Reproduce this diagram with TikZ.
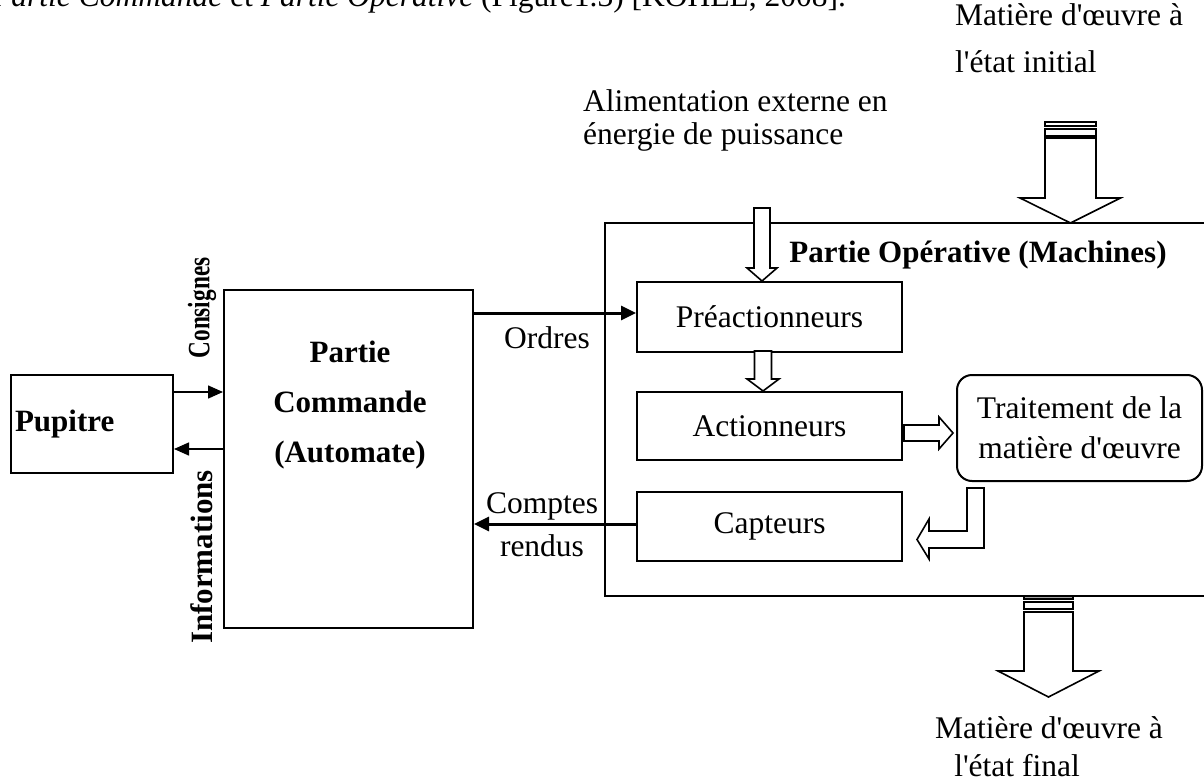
\documentclass[tikz,border=0pt]{standalone}
\usepackage{fontspec}
\setmainfont{Liberation Serif}[Ligatures=TeXOff]
\usetikzlibrary{arrows.meta,calc}
\begin{document}
\begin{tikzpicture}[x=1pt,y=-1pt,
  every node/.style={font=\fontsize{31.5}{47}\selectfont, inner sep=0pt},
  box/.style={draw, line width=2pt, inner sep=0pt},
  bold/.style={font=\fontsize{31}{50}\selectfont\bfseries},
  thinarr/.style={line width=1.5pt, -{Triangle[length=15pt,width=13pt]}},
  thickarr/.style={line width=3pt, -{Triangle[length=15pt,width=14pt]}},
  blk/.style={draw, line width=1.6pt, fill=white, line join=miter},
  band/.style={draw, line width=1.2pt},
]
\useasboundingbox (0,0) rectangle (1204,781);
\clip (0,0) rectangle (1204,781);

% cut-off caption line at the top
\node[anchor=base west] (cap0) at (-8,7) {\textit{Partie Commande} et \textit{Partie Opérative} (Figure1.3) [KOHEL, 2008].};

% boxes
\node[box, minimum width=162pt, minimum height=98pt, text width=154pt, align=left, bold] (pupitre) at (92,424) {Pupitre};
\node[box, minimum width=249pt, minimum height=338pt] (cmd) at (348.5,459) {};
\node[bold, align=center] (cmdtxt) at (350,405.5) {Partie\\Commande\\(Automate)};
\node[box, minimum width=610pt, minimum height=373pt] (po) at (910,409.5) {};
\node[bold] (potitle) at (978,255) {Partie Opérative (Machines)};
\node[box, minimum width=265pt, minimum height=70pt] (pre) at (769.5,317) {Préactionneurs};
\node[box, minimum width=265pt, minimum height=68pt] (act) at (769.5,426) {Actionneurs};
\node[box, minimum width=265pt, minimum height=69pt] (capt) at (769.5,526.5) {Capteurs};
\node[box, rounded corners=15pt, minimum width=245pt, minimum height=106pt, align=center,
      font=\fontsize{31.5}{40}\selectfont] (trt) at (1079.5,428) {Traitement de la\\matière d'œuvre};

% signal arrows
\draw[thinarr] (pupitre.east |- 0,392) -- (cmd.west |- 0,392);
\draw[thinarr] (cmd.west |- 0,449) -- (pupitre.east |- 0,449);
\draw[thickarr] (cmd.east |- 0,313) -- (pre.west |- 0,313);
\draw[thickarr] (capt.west |- 0,524) -- (cmd.east |- 0,524);

% arrow labels
\node[bold, rotate=90] (consignes) at (202,308) {\scalebox{0.75}[1]{Consignes}};
\node[bold, rotate=90] (infos) at (202,557) {Informations};
\node (ordres) at (547,338) {Ordres};
\node[align=center, font=\fontsize{31.5}{43}\selectfont] (cr) at (542,525) {Comptes\\rendus};

% block arrows
\draw[blk] ([xshift=-7.5pt]pre.north) -- ++(-15,-13) -- ++(7,0) -- ++(0,-60) -- ++(16,0) -- ++(0,60) -- ++(7,0) -- cycle;
\draw[blk] ([xshift=-6.5pt]act.north) -- ++(-16,-12) -- ++(7.5,0) -- ++(0,-28) -- ++(17,0) -- ++(0,28) -- ++(7.5,0) -- cycle;
\draw[blk] ([shift={(-3,5)}]trt.west) -- ++(-14,-16) -- ++(0,8) -- ++(-35,0) -- ++(0,16) -- ++(35,0) -- ++(0,8) -- cycle;
\coordinate (Ls) at ([shift={(-112.5,6)}]trt.south);
\draw[blk] (Ls) -- ++(17,0) -- ++(0,60) -- ++(-55,0) -- ++(0,11) -- ++(-12,-19.5) -- ++(12,-20.5) -- ++(0,12) -- ++(38,0) -- cycle;

% input material arrow (top)
\draw[blk] (1070.5,223) -- ++(-50.5,-25) -- ++(25,0) -- ++(0,-60) -- ++(51,0) -- ++(0,60) -- ++(24.5,0) -- cycle;
\draw[band, fill=white] (1045,129) rectangle (1096,136);
\draw[band, fill=white] (1045,122) rectangle (1096,126);
% output material arrow (bottom)
\draw[band, fill=gray!70] (1024,596) rectangle (1073,599);
\draw[band, fill=white] (1024,602) rectangle (1073,609);
\draw[blk] (1024,612) -- (1073,612) -- (1073,671) -- (1099,671) -- (1048.5,697) -- (998,671) -- (1024,671) -- cycle;

% texts
\node[anchor=west, align=left, font=\fontsize{31.5}{33}\selectfont] (alim) at (583,120) {Alimentation externe en\\énergie de puissance};
\node[anchor=west, align=left] (minit) at (955,38.5) {Matière d'œuvre à\\l'état initial};
\node[anchor=base] (mfin1) at (1049,738) {Matière d'œuvre à};
\node[anchor=base] (mfin2) at (1017,776) {l'état final};
\end{tikzpicture}
\end{document}
